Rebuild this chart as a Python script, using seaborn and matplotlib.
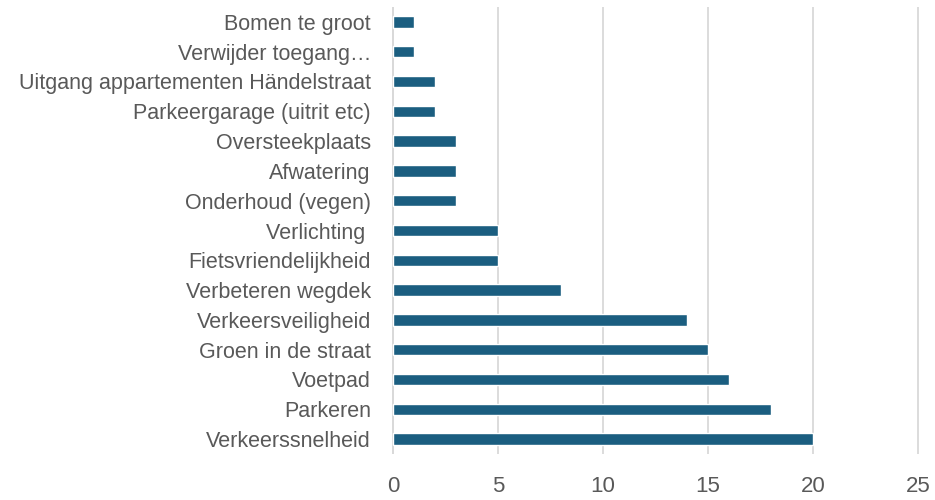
import matplotlib
matplotlib.use('Agg')
import matplotlib.pyplot as plt
import seaborn as sns
import pandas as pd

categories = ['Bomen te groot', 'Verwijder toegang\u2026', 'Uitgang appartementen Händelstraat',
              'Parkeergarage (uitrit etc)', 'Oversteekplaats', 'Afwatering', 'Onderhoud (vegen)',
              'Verlichting ', 'Fietsvriendelijkheid', 'Verbeteren wegdek', 'Verkeersveiligheid',
              'Groen in de straat', 'Voetpad', 'Parkeren', 'Verkeerssnelheid']
counts = [1, 1, 2, 2, 3, 3, 3, 5, 5, 8, 14, 15, 16, 18, 20]
xticks = [0, 5, 10, 15, 20, 25]

df = pd.DataFrame({'categorie': categories, 'aantal': counts})

sns.set_theme(style='white')
plt.rcParams['font.family'] = ['Liberation Sans', 'DejaVu Sans']

fig = plt.figure(figsize=(9.35, 5), dpi=100)
ax = fig.add_axes([0.419, 0.092, 0.564, 0.894])
sns.barplot(data=df, y='categorie', x='aantal', color='#1b5e80', saturation=1,
            width=0.38, ax=ax, orient='h')

ax.set_xlim(-0.05, 25.05)
ax.set_xticks(xticks)
ax.set_ylim(len(categories) - 0.5, -0.5)
ax.set_xlabel('')
ax.set_ylabel('')
ax.grid(axis='x', color='#d9d9d9', linewidth=1.3)
ax.axvline(0, color='#d9d9d9', linewidth=1.3, zorder=0.5)
ax.set_axisbelow(True)
for s in ax.spines.values():
    s.set_visible(False)
ax.tick_params(axis='x', length=0, pad=16, labelsize=16, labelcolor='#595959')
ax.tick_params(axis='y', length=0, pad=15, labelsize=15.5, labelcolor='#595959')

fig.savefig('out.png', dpi=100)
